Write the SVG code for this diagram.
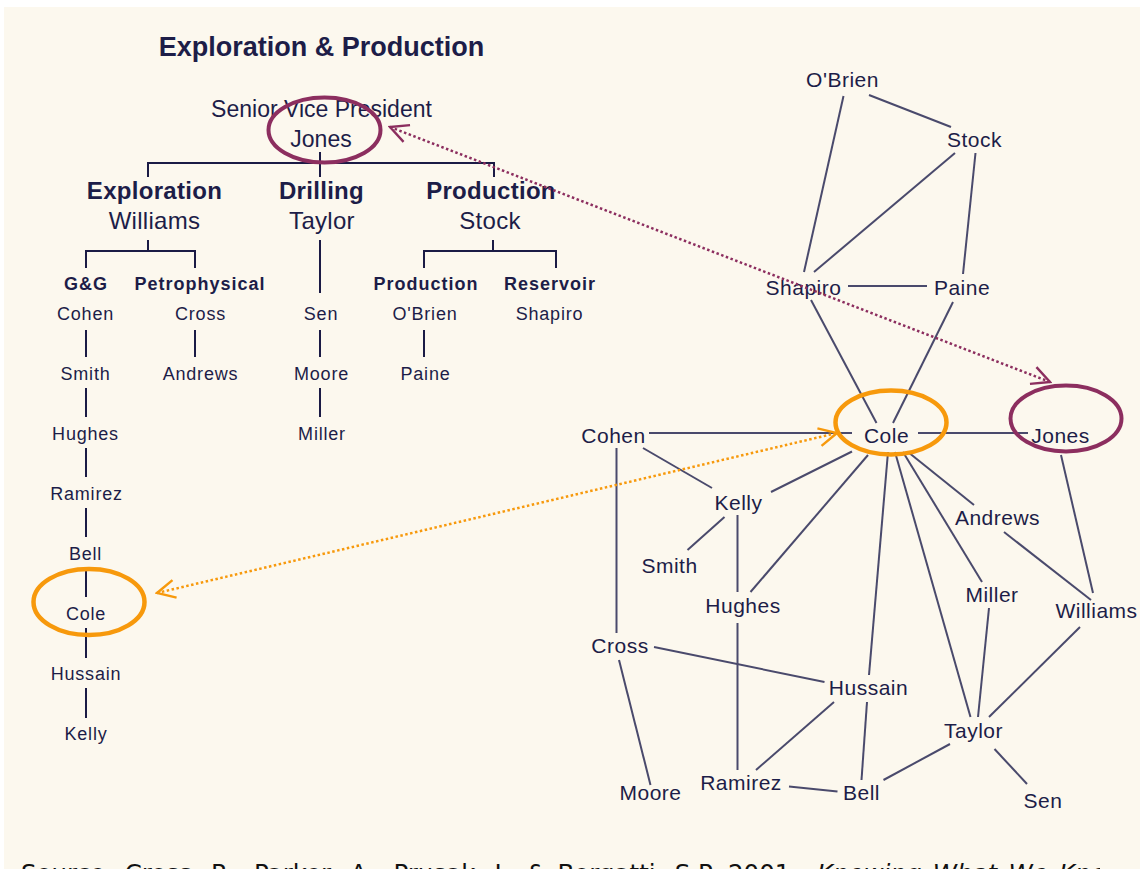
<svg xmlns="http://www.w3.org/2000/svg" width="1140" height="869" viewBox="0 0 1140 869">
  <style>
    text { font-family: "Liberation Sans", Arial, sans-serif; fill: #1d1d48; text-anchor: middle; }
    .title { font-size: 27px; font-weight: bold; }
    .svp { font-size: 23px; }
    .dept { font-size: 24px; font-weight: bold; letter-spacing: 0.3px; }
    .head { font-size: 24px; letter-spacing: 0.3px; }
    .grp { font-size: 18px; font-weight: bold; letter-spacing: 1px; }
    .emp { font-size: 18px; letter-spacing: 0.8px; }
    .net { font-size: 21px; letter-spacing: 0.5px; }
    .org line { stroke: #1b1b45; stroke-width: 2; }
    .edges line { stroke: #4a4a6c; stroke-width: 2; }
    .ring { fill: none; }
    .plum { stroke: #8c2e5f; }
    .orange { stroke: #f7990c; }
    .link { fill: none; stroke-width: 2.5; stroke-dasharray: 2.5 2.5; }
    .cite { font-family: "DejaVu Sans", Verdana, sans-serif; font-size: 24.5px; fill: #111111; text-anchor: start; word-spacing: 3.5px; }
  </style>
  <defs>
    <marker id="chevPlum" viewBox="-22 -12 24 24" markerWidth="24" markerHeight="24" refX="0" refY="0" markerUnits="userSpaceOnUse" orient="auto-start-reverse">
      <path d="M-18,-9 L0,0 L-18,9" fill="none" stroke="#8c2e5f" stroke-width="2.4"/>
    </marker>
    <marker id="chevOrange" viewBox="-22 -12 24 24" markerWidth="24" markerHeight="24" refX="0" refY="0" markerUnits="userSpaceOnUse" orient="auto-start-reverse">
      <path d="M-18,-9 L0,0 L-18,9" fill="none" stroke="#f7990c" stroke-width="2.4"/>
    </marker>
    <clipPath id="pageClip"><rect x="0" y="0" width="1100" height="869"/></clipPath>
  </defs>

  <!-- page -->
  <rect x="0" y="0" width="1140" height="869" fill="#ffffff"/>
  <rect x="4" y="7" width="1136" height="862" fill="#fcf8ee"/>

  <!-- ===== Formal organisation chart ===== -->
  <text class="title" x="321.5" y="55.5">Exploration &amp; Production</text>

  <g id="org-connectors" class="org">
    <line x1="320" y1="152" x2="320" y2="163"/>
    <line x1="147" y1="163" x2="495" y2="163"/>
    <line x1="148" y1="163" x2="148" y2="177"/>
    <line x1="320" y1="163" x2="320" y2="177"/>
    <line x1="494" y1="163" x2="494" y2="177"/>
    <!-- Exploration -->
    <line x1="148" y1="240" x2="148" y2="251"/>
    <line x1="85" y1="251" x2="196" y2="251"/>
    <line x1="86" y1="251" x2="86" y2="268"/>
    <line x1="195" y1="251" x2="195" y2="268"/>
    <line x1="86" y1="330" x2="86" y2="357"/>
    <line x1="86" y1="388" x2="86" y2="417"/>
    <line x1="86" y1="448" x2="86" y2="477"/>
    <line x1="86" y1="508" x2="86" y2="537"/>
    <line x1="86" y1="568" x2="86" y2="597"/>
    <line x1="86" y1="628" x2="86" y2="658"/>
    <line x1="86" y1="688" x2="86" y2="718"/>
    <line x1="195" y1="330" x2="195" y2="357"/>
    <!-- Drilling -->
    <line x1="320" y1="240" x2="320" y2="293"/>
    <line x1="320" y1="330" x2="320" y2="357"/>
    <line x1="320" y1="388" x2="320" y2="417"/>
    <!-- Production -->
    <line x1="493" y1="240" x2="493" y2="251"/>
    <line x1="423" y1="251" x2="557" y2="251"/>
    <line x1="424" y1="251" x2="424" y2="268"/>
    <line x1="556" y1="251" x2="556" y2="268"/>
    <line x1="424" y1="330" x2="424" y2="357"/>
  </g>

  <g id="org-svp">
    <text class="svp" x="321.5" y="117">Senior Vice President</text>
    <text class="svp" x="321" y="147">Jones</text>
  </g>
  <g id="org-exploration">
    <text class="dept" x="154.5" y="199">Exploration</text>
    <text class="head" x="154.5" y="229">Williams</text>
  </g>
  <g id="org-drilling">
    <text class="dept" x="321.5" y="199">Drilling</text>
    <text class="head" x="322" y="229">Taylor</text>
  </g>
  <g id="org-production">
    <text class="dept" x="491" y="199">Production</text>
    <text class="head" x="490" y="229">Stock</text>
  </g>
  <g id="org-gg">
    <text class="grp" x="86" y="290">G&amp;G</text>
    <text class="emp" x="85.5" y="320">Cohen</text>
    <text class="emp" x="85.5" y="380">Smith</text>
    <text class="emp" x="85.5" y="440">Hughes</text>
    <text class="emp" x="86.5" y="500">Ramirez</text>
    <text class="emp" x="85.5" y="560">Bell</text>
    <text class="emp" x="86" y="620">Cole</text>
    <text class="emp" x="86" y="680">Hussain</text>
    <text class="emp" x="86" y="740">Kelly</text>
  </g>
  <g id="org-petrophysical">
    <text class="grp" x="200" y="290">Petrophysical</text>
    <text class="emp" x="200.5" y="320">Cross</text>
    <text class="emp" x="200.5" y="380">Andrews</text>
  </g>
  <g id="org-drilling-staff">
    <text class="emp" x="321" y="320">Sen</text>
    <text class="emp" x="321.5" y="380">Moore</text>
    <text class="emp" x="322" y="440">Miller</text>
  </g>
  <g id="org-prod-production">
    <text class="grp" x="426" y="290">Production</text>
    <text class="emp" x="425" y="320">O'Brien</text>
    <text class="emp" x="425.5" y="380">Paine</text>
  </g>
  <g id="org-reservoir">
    <text class="grp" x="550" y="290">Reservoir</text>
    <text class="emp" x="549.5" y="320">Shapiro</text>
  </g>

  <!-- ===== Informal network ===== -->
  <g id="network-connectors" class="edges">
    <line x1="869" y1="95" x2="951" y2="127"/>
    <line x1="843.5" y1="96" x2="804" y2="272"/>
    <line x1="955" y1="153" x2="814" y2="272"/>
    <line x1="975.5" y1="153" x2="963" y2="274"/>
    <line x1="848" y1="286" x2="927" y2="286"/>
    <line x1="811" y1="300" x2="876.5" y2="423"/>
    <line x1="953" y1="302" x2="893" y2="423"/>
    <line x1="649" y1="433" x2="852" y2="433"/>
    <line x1="918" y1="433" x2="1028" y2="433"/>
    <line x1="643" y1="448" x2="712" y2="488"/>
    <line x1="616.5" y1="448" x2="616.5" y2="633"/>
    <line x1="771" y1="492" x2="852" y2="451.5"/>
    <line x1="724.5" y1="517" x2="687.5" y2="550"/>
    <line x1="737.5" y1="515" x2="737.5" y2="592"/>
    <line x1="750.5" y1="592" x2="868" y2="455"/>
    <line x1="737.5" y1="623" x2="737.5" y2="770"/>
    <line x1="888" y1="452" x2="869" y2="675"/>
    <line x1="895" y1="452" x2="970.5" y2="717"/>
    <line x1="903" y1="452" x2="982" y2="582"/>
    <line x1="908" y1="452" x2="974" y2="505"/>
    <line x1="1004" y1="532" x2="1091" y2="600"/>
    <line x1="1061" y1="455" x2="1093" y2="593"/>
    <line x1="989" y1="608" x2="978" y2="717"/>
    <line x1="1080" y1="627" x2="989" y2="717"/>
    <line x1="654" y1="647" x2="824.5" y2="682"/>
    <line x1="619" y1="660" x2="650.5" y2="785"/>
    <line x1="756" y1="770" x2="834" y2="702"/>
    <line x1="789" y1="786.5" x2="837.5" y2="791.5"/>
    <line x1="867" y1="702" x2="861.5" y2="780"/>
    <line x1="883.5" y1="780" x2="950" y2="744"/>
    <line x1="994.5" y1="749" x2="1027" y2="784"/>
  </g>

  <g id="net-obrien"><text class="net" x="842.5" y="87">O'Brien</text></g>
  <g id="net-stock"><text class="net" x="974.5" y="147">Stock</text></g>
  <g id="net-shapiro"><text class="net" x="803.5" y="295">Shapiro</text></g>
  <g id="net-paine"><text class="net" x="962" y="295">Paine</text></g>
  <g id="net-cohen"><text class="net" x="613.5" y="443">Cohen</text></g>
  <g id="net-cole"><text class="net" x="886.5" y="443">Cole</text></g>
  <g id="net-jones"><text class="net" x="1060.5" y="443">Jones</text></g>
  <g id="net-kelly"><text class="net" x="738.5" y="510">Kelly</text></g>
  <g id="net-smith"><text class="net" x="669.5" y="573">Smith</text></g>
  <g id="net-hughes"><text class="net" x="743" y="613">Hughes</text></g>
  <g id="net-andrews"><text class="net" x="997.5" y="525">Andrews</text></g>
  <g id="net-miller"><text class="net" x="992" y="602">Miller</text></g>
  <g id="net-williams"><text class="net" x="1096.5" y="618">Williams</text></g>
  <g id="net-cross"><text class="net" x="620" y="653">Cross</text></g>
  <g id="net-hussain"><text class="net" x="868.5" y="695">Hussain</text></g>
  <g id="net-taylor"><text class="net" x="973.5" y="738">Taylor</text></g>
  <g id="net-moore"><text class="net" x="650.5" y="800">Moore</text></g>
  <g id="net-ramirez"><text class="net" x="741" y="790">Ramirez</text></g>
  <g id="net-bell"><text class="net" x="861.5" y="800">Bell</text></g>
  <g id="net-sen"><text class="net" x="1043" y="808">Sen</text></g>

  <!-- highlight rings and cross-links -->
  <g id="highlights">
    <ellipse class="ring plum" cx="324.5" cy="130" rx="56" ry="32.5" stroke-width="4"/>
    <ellipse class="ring plum" cx="1066" cy="418.5" rx="55.5" ry="33" stroke-width="4"/>
    <ellipse class="ring orange" cx="89" cy="602" rx="55.5" ry="33" stroke-width="4.5"/>
    <ellipse class="ring orange" cx="891" cy="422.5" rx="55.5" ry="32" stroke-width="4.5"/>
    <line class="link plum" x1="390" y1="127" x2="1050" y2="382" marker-start="url(#chevPlum)" marker-end="url(#chevPlum)"/>
    <line class="link orange" x1="157" y1="593" x2="837" y2="433" marker-start="url(#chevOrange)" marker-end="url(#chevOrange)"/>
  </g>

  <!-- source line, running off the bottom edge of the page -->
  <text class="cite" x="21" y="881.5" clip-path="url(#pageClip)">Source: Cross, R., Parker, A., Prusak, L. &amp; Borgatti, S.P. 2001. <tspan x="817" font-style="italic">Knowing What We Know</tspan></text>
</svg>
